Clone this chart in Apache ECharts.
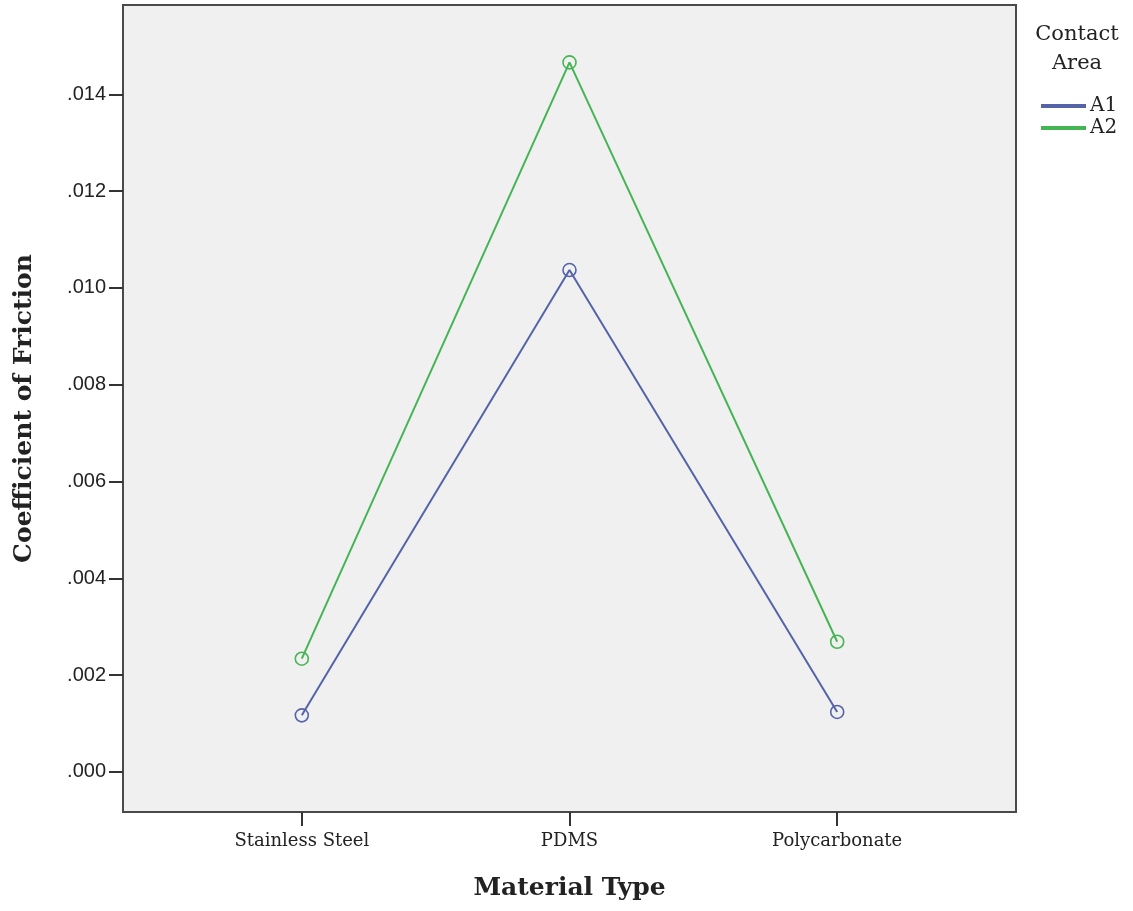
<!DOCTYPE html>
<html>
<head>
<meta charset="utf-8">
<script src="https://cdn.jsdelivr.net/npm/echarts@6/dist/echarts.min.js"></script>
<style>
html,body{margin:0;padding:0;background:#fff;}
#chart{width:1133px;height:911px;}
</style>
</head>
<body>
<div id="chart"></div>
<script>
const categories = ['Stainless Steel', 'PDMS', 'Polycarbonate'];
const seriesNames = ['A1', 'A2'];
const valuesA1 = [0.00117, 0.01037, 0.00124];
const valuesA2 = [0.00234, 0.01466, 0.00269];
const yTicks = [0, 0.002, 0.004, 0.006, 0.008, 0.010, 0.012, 0.014];
const yTickLabels = ['.000', '.002', '.004', '.006', '.008', '.010', '.012', '.014'];
const colors = ['#5563a8', '#45b554'];

const chart = echarts.init(document.getElementById('chart'));
const serif = '"DejaVu Serif", "Liberation Serif", serif';

function toPoints(vals) { return vals.map((v, i) => [i, v]); }

chart.setOption({
  animation: false,
  backgroundColor: '#ffffff',
  grid: {
    left: 123, top: 5, right: 117, bottom: 99,
    show: true, backgroundColor: '#f0f0f0', borderColor: '#4a4a4a', borderWidth: 2
  },
  graphic: [{
    type: 'text', x: 1077, y: 20,
    style: { text: 'Contact\nArea', font: '21px ' + serif, fill: '#222', lineHeight: 29, align: 'center' }
  }],
  legend: {
    orient: 'vertical', left: 1036, top: 91,
    icon: 'rect', itemWidth: 43, itemHeight: 2, itemGap: 2,
    textStyle: { fontFamily: serif, fontSize: 20, color: '#222' },
    data: seriesNames.map((n, i) => ({ name: n, itemStyle: { color: colors[i] } }))
  },
  xAxis: {
    type: 'value', min: -0.668, max: 2.668,
    name: 'Material Type', nameLocation: 'middle', nameGap: 64,
    nameTextStyle: { fontFamily: serif, fontSize: 25, fontWeight: 'bold', color: '#222' },
    splitLine: { show: false },
    axisLine: { show: true, onZero: false, lineStyle: { color: '#4a4a4a', width: 2 } },
    axisTick: { show: true, customValues: [0, 1, 2], length: 14, lineStyle: { color: '#333', width: 2 } },
    axisLabel: {
      customValues: [0, 1, 2], margin: 20,
      formatter: v => categories[Math.round(v)],
      fontFamily: serif, fontSize: 18, color: '#222'
    }
  },
  yAxis: {
    type: 'value', min: -0.000827, max: 0.015846,
    name: 'Coefficient of Friction', nameLocation: 'middle', nameGap: 86,
    nameTextStyle: { fontFamily: serif, fontSize: 25, fontWeight: 'bold', color: '#222' },
    splitLine: { show: false },
    axisLine: { show: true, onZero: false, lineStyle: { color: '#4a4a4a', width: 2 } },
    axisTick: { show: true, customValues: yTicks, length: 14, lineStyle: { color: '#333', width: 2 } },
    axisLabel: {
      customValues: yTicks, margin: 17,
      formatter: v => yTickLabels[yTicks.findIndex(t => Math.abs(t - v) < 1e-9)],
      fontFamily: '"Liberation Sans", Arial, sans-serif', fontSize: 20, color: '#222'
    }
  },
  series: [
    {
      name: seriesNames[0], type: 'line', data: toPoints(valuesA1),
      symbol: 'circle', symbolSize: 13,
      lineStyle: { color: colors[0], width: 2 },
      itemStyle: { color: 'rgba(0,0,0,0)', borderColor: colors[0], borderWidth: 1.6 }
    },
    {
      name: seriesNames[1], type: 'line', data: toPoints(valuesA2),
      symbol: 'circle', symbolSize: 13,
      lineStyle: { color: colors[1], width: 2 },
      itemStyle: { color: 'rgba(0,0,0,0)', borderColor: colors[1], borderWidth: 1.6 }
    }
  ]
});
</script>
</body>
</html>
